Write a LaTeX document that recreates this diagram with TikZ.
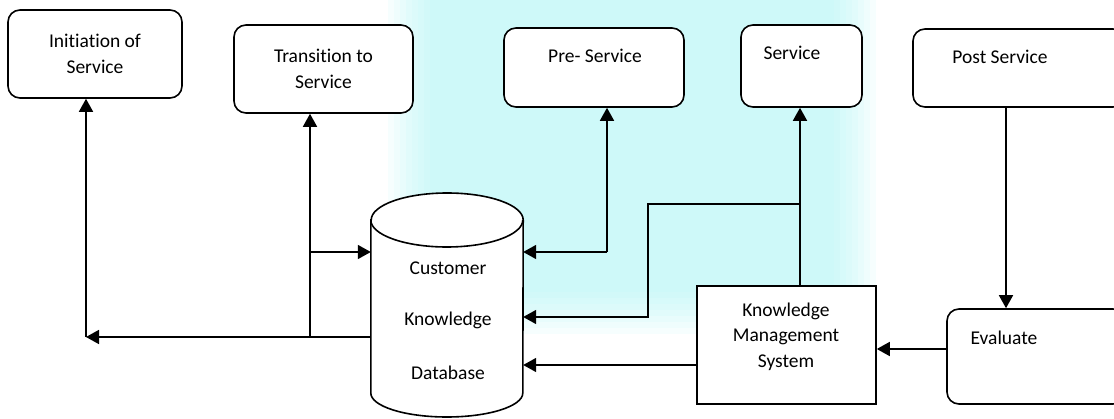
\documentclass[tikz,border=0pt]{standalone}
\usepackage{fontspec}
\setmainfont{Carlito}[Ligatures=NoCommon]
\usetikzlibrary{arrows.meta}
\definecolor{wash}{RGB}{170,244,244}
\tikzset{
  x=1pt, y=1pt,
  every node/.style={font=\fontsize{19.5}{25.5}\selectfont},
  stage/.style={draw, line width=1.6pt, fill=white, rounded corners=12pt, inner sep=0pt},
  plain/.style={draw, line width=1.6pt, fill=white, inner sep=0pt},
  txt/.style={align=center, inner sep=0pt},
  link/.style={line width=1.6pt},
  arr/.style={link, -{Triangle[length=13pt, width=14pt]}},
}
\begin{document}
\begin{tikzpicture}
\useasboundingbox (0,0) rectangle (1114,418);
% soft aqua wash behind the middle of the chart, built from stacked translucent layers
\foreach \i in {0,...,7}
  \fill[wash, opacity=0.1] (388+\i*6, 84+\i*6) rectangle (876-\i*6, 430);

% stage boxes along the top
\node[stage, minimum width=174pt, minimum height=88pt] (init) at (95,364) {};
\node[txt] at (95,364) {Initiation of\\Service};
\node[stage, minimum width=179pt, minimum height=88pt] (trans) at (323.5,349) {};
\node[txt] at (323.5,349) {Transition to\\Service};
\node[stage, minimum width=180pt, minimum height=79pt] (pre) at (594,350.5) {};
\node[txt] at (595,362) {Pre- Service};
\node[stage, minimum width=121pt, minimum height=82pt] (serv) at (801.5,352) {};
\node[txt] at (792,365) {Service};
\node[stage, minimum width=212pt, minimum height=78pt] (post) at (1019,350) {};
\node[txt] at (1000,361) {Post Service};

% customer knowledge database (cylinder)
\node[inner sep=0pt, minimum width=152pt, minimum height=224pt] (db) at (447,113) {};
\draw[line width=1.6pt, fill=white]
  (db.west |- 0,198) -- (db.west |- 0,25)
  arc[start angle=180, end angle=360, x radius=76pt, y radius=24pt]
  -- (db.east |- 0,198)
  arc[start angle=0, end angle=180, x radius=76pt, y radius=27pt] -- cycle;
\draw[line width=1.6pt] (db.west |- 0,198)
  arc[start angle=180, end angle=360, x radius=76pt, y radius=27pt];
\node[txt] at (448,150) {Customer};
\node[txt] at (448,98) {Knowledge};
\node[txt] at (448,45) {Database};

% knowledge management system and evaluation
\node[plain, minimum width=179pt, minimum height=118pt] (kms) at (786.5,73) {};
\node[txt] at (786,81.5) {Knowledge\\Management\\System};
\node[stage, minimum width=178pt, minimum height=95pt] (eval) at (1036,61.5) {};
\node[txt] at (1004,80) {Evaluate};

% junction points
\coordinate (cInit) at (86,81);
\coordinate (cTrans) at (310,81);
\coordinate (cTransDb) at (310,166);
\coordinate (cPre) at (607,166);
\coordinate (cServ) at (800,214);
\coordinate (cBendA) at (648,214);
\coordinate (cBendB) at (648,101);

% database feeds the first two stages
\draw[arr] (db.west |- cInit) -- (cInit);
\draw[arr] (cInit) -- (init.south -| cInit);
\draw[arr] (cTrans) -- (trans.south -| cTrans);
\draw[arr] (cTransDb) -- (db.west |- cTransDb);

% pre-service exchange
\draw[arr] (cPre) -- (pre.south -| cPre);
\draw[arr] (cPre) -- (db.east |- cPre);

% service and knowledge management
\draw[arr] (kms.north -| cServ) -- (serv.south -| cServ);
\draw[arr] (cServ) -- (cBendA) -- (cBendB) -- (db.east |- cBendB);
\draw[arr] (kms.west |- 0,53) -- (db.east |- 0,53);

% post service evaluation loop
\draw[arr] (post.south -| 1006,0) -- (eval.north -| 1006,0);
\draw[arr] (eval.west |- 0,69) -- (kms.east |- 0,69);
\end{tikzpicture}
\end{document}
